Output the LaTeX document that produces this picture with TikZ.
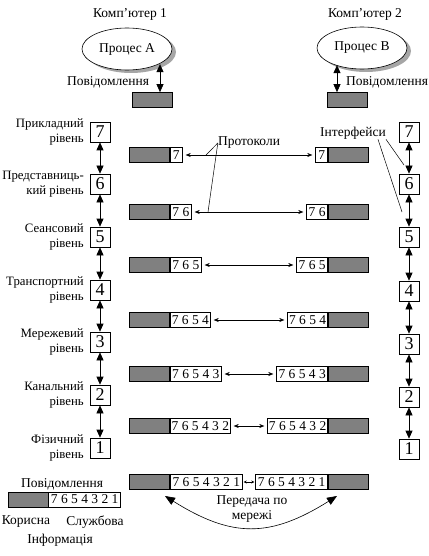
\documentclass[tikz,border=0pt]{standalone}
\usepackage{fontspec}
\setmainfont{Liberation Serif}
\usetikzlibrary{arrows.meta,shapes.geometric,shadows}
\begin{document}
\begin{tikzpicture}[x=1pt,y=-1pt,
  lbl/.style={font=\fontsize{13.5}{15}\selectfont, inner sep=0pt},
  lvl/.style={font=\fontsize{12.8}{15}\selectfont, inner sep=0pt, align=right, anchor=east},
  numbox/.style={draw, line width=0.7pt, fill=white, minimum width=20pt, minimum height=20pt, inner sep=0pt, font=\fontsize{18}{18}\selectfont},
  gbar/.style={draw, line width=0.7pt, fill=gray, minimum width=40pt, minimum height=15pt, inner sep=0pt},
  wbox/.style={draw, line width=0.7pt, fill=white, minimum height=15pt, inner sep=0pt, font=\fontsize{13.5}{13}\selectfont},
  varr/.style={line width=0.7pt, {Triangle[width=7pt,length=8pt]}-{Triangle[width=7pt,length=8pt]}},
  harr/.style={line width=0.5pt, {Stealth[length=5pt,width=4pt]}-{Stealth[length=5pt,width=4pt]}},
  sharr/.style={line width=0.5pt, {Stealth[length=3pt,width=3pt]}-{Stealth[length=3pt,width=3pt]}},
  curv/.style={line width=0.6pt, {Triangle[width=8pt,length=10pt]}-{Triangle[width=8pt,length=10pt]}},
  thinl/.style={line width=0.5pt},
  proc/.style={ellipse, draw, line width=0.6pt, fill=white, minimum width=90pt, minimum height=42pt, inner sep=0pt, font=\fontsize{13.5}{15}\selectfont, drop shadow={shadow xshift=4pt, shadow yshift=-3pt, fill=gray!70, draw=none, opacity=1}},
]
\useasboundingbox (0,0) rectangle (428,556);

% top
\node[lbl] (k1) at (130,14) {Комп’ютер 1};
\node[proc] (pa) at (127,49) {Процес А};
\node[gbar] (tl) at (152,100) {};
\draw[varr] ([xshift=8pt]tl.north) -- ++(0,-28);
\node[lbl] (m1) at (108,82) {Повідомлення};

\node[lbl] (k2) at (365,14) {Комп’ютер 2};
\node[proc] (pb) at (362,48) {Процес В};
\node[gbar] (tr) at (347,100) {};
\draw[varr] ([xshift=-10pt]tr.north) -- ++(0,-27);
\node[lbl] (m2) at (387,82) {Повідомлення};

% level boxes
\foreach \n/\y/\t in {7/132/Прикладний\\рівень, 6/184/Представниць-\\кий рівень, 5/237/Сеансовий\\рівень, 4/290/Транспортний\\рівень, 3/342/Мережевий\\рівень, 2/395/Канальний\\рівень, 1/448/Фізичний\\рівень}{
  \node[numbox] (L\n) at (100,\y) {\n};
  \node[lvl] (T\n) at (84,\y) {\t};
}
\foreach \n/\y in {7/132, 6/184, 5/237, 4/291, 3/344, 2/397, 1/449}{
  \node[numbox] (R\n) at (409,\y) {\n};
}
\foreach \a/\b in {7/6,6/5,5/4,4/3,3/2,2/1}{
  \draw[varr] (L\a.south) -- (L\b.north);
  \draw[varr] (R\a.south) -- (R\b.north);
}

% message rows
\foreach \i/\y/\w/\t in {1/155/12/7,2/212/21/7 6,3/265/31/7 6 5,4/320/40/7 6 5 4,5/374/51/7 6 5 4 3,6/426/60/7 6 5 4 3 2}{
  \node[gbar, anchor=east] (lg\i) at (170,\y) {};
  \node[wbox, minimum width=\w pt, anchor=west] (lw\i) at (lg\i.east) {\t};
  \node[gbar, anchor=west] (rg\i) at (328,\y) {};
  \node[wbox, minimum width=\w pt, anchor=east] (rw\i) at (rg\i.west) {\t};
  \draw[harr] ([xshift=3pt]lw\i.east) -- ([xshift=-3pt]rw\i.west);
}
\node[gbar, anchor=east] (lg7) at (170,482) {};
\node[wbox, minimum width=72pt, anchor=west] (lw7) at (lg7.east) {7 6 5 4 3 2 1};
\node[gbar, anchor=west] (rg7) at (328,482) {};
\node[wbox, minimum width=72pt, anchor=east] (rw7) at (rg7.west) {7 6 5 4 3 2 1};
\draw[sharr] ([xshift=1pt]lw7.east) -- ([xshift=-1pt]rw7.west);

% protocols
\node[lbl] (prot) at (249,143) {Протоколи};
\coordinate (p1) at (206,155);
\coordinate (p2) at (208,212);
\draw[thinl] (prot.west) -- (p1);
\draw[thinl] (prot.west) -- (p2);

% interfaces
\node[lbl] (intf) at (353,133) {Інтерфейси};
\coordinate (i1) at (404,165);
\coordinate (i2) at (402,212);
\draw[thinl] (intf.south east) -- (i1);
\draw[thinl] ([xshift=-8pt]intf.south east) -- (i2);

% bottom left legend
\node[lbl] (m3) at (62,484) {Повідомлення};
\node[gbar] (bg) at (28,499.5) {};
\node[wbox, minimum width=72pt, anchor=west] (bw) at (bg.east) {7 6 5 4 3 2 1};
\node[lbl] (kor) at (26,522) {Корисна};
\node[lbl] (sl) at (95,522) {Службова};
\node[lbl] (inf) at (60,540) {Інформація};

% transmission
\node[lbl, align=center] (tx) at (252,509) {Передача по\\мережі};
\coordinate (c1) at (165,496);
\coordinate (c2) at (337,496);
\draw[curv] (c1) .. controls (232,538) and (270,538) .. (c2);
\end{tikzpicture}
\end{document}
